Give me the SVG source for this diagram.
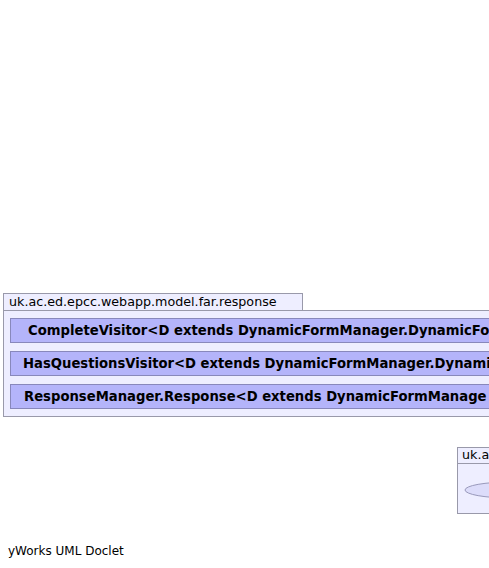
<svg xmlns="http://www.w3.org/2000/svg" width="489" height="568" viewBox="0 0 489 568">
<style>
.pkg{fill:#eeeeff;stroke:#9999aa;stroke-width:1}
.cls{fill:#b4b4fa;stroke:#8888bb;stroke-width:1}
.ptxt{font-family:"DejaVu Sans",sans-serif;font-size:12.7px;fill:#000}
.ctxt{font-family:"DejaVu Sans",sans-serif;font-size:13.2px;font-weight:bold;fill:#000}
.ftxt{font-family:"DejaVu Sans",sans-serif;font-size:12px;fill:#000}
</style>
<rect width="489" height="568" fill="#ffffff"/>
<g id="pkg-response">
<rect class="pkg" x="3.5" y="293.5" width="299" height="17"/>
<rect class="pkg" x="3.5" y="310.5" width="500" height="106"/>
<text class="ptxt" x="9" y="305.5">uk.ac.ed.epcc.webapp.model.far.response</text>
</g>
<g id="CompleteVisitor">
<rect class="cls" x="10.5" y="318.5" width="500" height="24"/>
<text class="ctxt" x="28" y="335">CompleteVisitor&lt;D extends DynamicFormManager.DynamicFo</text>
</g>
<g id="HasQuestionsVisitor">
<rect class="cls" x="10.5" y="351.5" width="500" height="24"/>
<text class="ctxt" x="23" y="368">HasQuestionsVisitor&lt;D extends DynamicFormManager.Dynami</text>
</g>
<g id="ResponseManager.Response">
<rect class="cls" x="10.5" y="384.5" width="500" height="24"/>
<text class="ctxt" x="24" y="401">ResponseManager.Response&lt;D extends DynamicFormManage</text>
</g>
<g id="pkg-other">
<rect class="pkg" x="457.5" y="447.5" width="60" height="16"/>
<rect class="pkg" x="457.5" y="463.5" width="60" height="50"/>
<text class="ptxt" x="462" y="459">uk.a</text>
<ellipse cx="510" cy="490" rx="45" ry="8" fill="#dcdcfa" stroke="#9999bb"/>
</g>
<g id="connectors"></g>
<text class="ftxt" x="8" y="555">yWorks UML Doclet</text>
</svg>
